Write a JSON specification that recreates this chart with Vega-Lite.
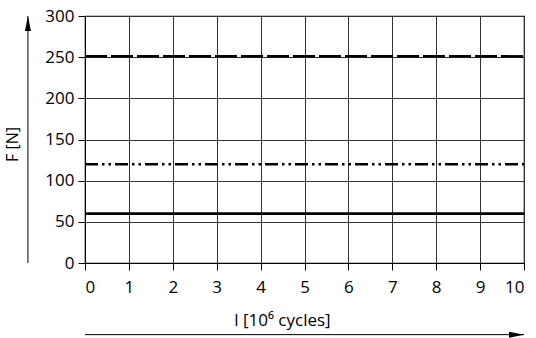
{
  "$schema": "https://vega.github.io/schema/vega-lite/v6.json",
  "width": 439,
  "height": 247,
  "autosize": {"type": "none"},
  "padding": {"left": 85, "top": 16, "right": 12, "bottom": 75},
  "background": "white",
  "config": {
    "font": "Open Sans",
    "view": {"stroke": "black", "strokeWidth": 1.2},
    "axis": {
      "labelFont": "Open Sans",
      "labelFontSize": 17,
      "labelColor": "black",
      "titleFont": "Open Sans",
      "titleFontSize": 17,
      "titleFontWeight": "normal",
      "titleColor": "black",
      "tickColor": "black",
      "tickSize": 7,
      "domainColor": "black",
      "gridColor": "#333",
      "gridWidth": 1,
      "gridOpacity": 1
    }
  },
  "datasets": {
    "loads": [
      {"load": "250 N", "l": 0, "l2": 10, "F": 251},
      {"load": "120 N", "l": 0, "l2": 10, "F": 120},
      {"load": "60 N", "l": 0, "l2": 10, "F": 60}
    ],
    "arrows": [
      {"dir": "x", "l": 0, "l2": 10, "F": -87, "F2": -87},
      {"dir": "y", "l": -1.3, "l2": -1.3, "F": 0, "F2": 300}
    ]
  },
  "layer": [
    {
      "data": {"name": "loads"},
      "transform": [{"filter": "datum.load === '250 N'"}],
      "mark": {"type": "rule", "color": "black", "strokeWidth": 2.5, "strokeDash": [22, 4]},
      "encoding": {
        "x": {
          "field": "l", "type": "quantitative",
          "scale": {"domain": [0, 10], "nice": false},
          "axis": {
            "values": [0,1,2,3,4,5,6,7,8,9,10],
            "labelPadding": 9,
            "title": "l [10⁶ cycles]",
            "titleX": 197,
            "titleY": 57,
            "titleBaseline": "middle",
            "titleAnchor": "middle",
            "grid": true
          }
        },
        "x2": {"field": "l2"},
        "y": {
          "field": "F", "type": "quantitative",
          "scale": {"domain": [0, 300], "nice": false},
          "axis": {
            "values": [0,50,100,150,200,250,300],
            "labelPadding": 4,
            "title": "F [N]",
            "titleFontSize": 16,
            "titleX": -73,
            "titleY": 128,
            "titleBaseline": "middle",
            "titleAnchor": "middle",
            "grid": true
          }
        }
      }
    },
    {
      "data": {"name": "loads"},
      "transform": [{"filter": "datum.load === '120 N'"}],
      "mark": {"type": "rule", "color": "black", "strokeWidth": 2.5, "strokeDash": [13, 4, 2.5, 4, 2.5, 4]},
      "encoding": {
        "x": {"field": "l", "type": "quantitative"},
        "x2": {"field": "l2"},
        "y": {"field": "F", "type": "quantitative"}
      }
    },
    {
      "data": {"name": "loads"},
      "transform": [{"filter": "datum.load === '60 N'"}],
      "mark": {"type": "rule", "color": "black", "strokeWidth": 2.8},
      "encoding": {
        "x": {"field": "l", "type": "quantitative"},
        "x2": {"field": "l2"},
        "y": {"field": "F", "type": "quantitative"}
      }
    },
    {
      "data": {"name": "arrows"},
      "mark": {"type": "rule", "color": "black", "strokeWidth": 1, "clip": false},
      "encoding": {
        "x": {"field": "l", "type": "quantitative"},
        "x2": {"field": "l2"},
        "y": {"field": "F", "type": "quantitative"},
        "y2": {"field": "F2"}
      }
    },
    {
      "data": {"name": "arrows"},
      "transform": [{"filter": "datum.dir === 'x'"}],
      "mark": {"type": "point", "filled": true, "color": "black", "opacity": 1, "size": 225, "clip": false,
               "shape": "M0,0 L-2,-0.4 L-2,0.4 Z"},
      "encoding": {
        "x": {"field": "l2", "type": "quantitative"},
        "y": {"field": "F2", "type": "quantitative"}
      }
    },
    {
      "data": {"name": "arrows"},
      "transform": [{"filter": "datum.dir === 'y'"}],
      "mark": {"type": "point", "filled": true, "color": "black", "opacity": 1, "size": 225, "clip": false,
               "shape": "M0,0 L-0.4,2 L0.4,2 Z"},
      "encoding": {
        "x": {"field": "l2", "type": "quantitative"},
        "y": {"field": "F2", "type": "quantitative"}
      }
    }
  ]
}
